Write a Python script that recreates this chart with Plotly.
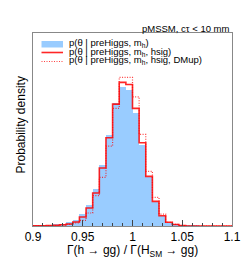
import numpy as np
import plotly.graph_objects as go

# 30 bins from 0.9 to 1.1
bin_lo = 0.9
bin_hi = 1.1
n_bins = 30

# densities
p_mh = [0.05, 0.08, 0.13, 0.21, 0.33, 0.60, 1.03, 1.96, 3.49, 6.10,
        10.03, 14.84, 20.07, 22.79, 22.25, 18.44, 13.25, 7.97, 3.88, 1.59,
        0.49, 0.33, 0.08, 0.03, 0.02, 0.0, 0.0, 0.0, 0.0, 0.0]
p_mh_hsig = [0.05, 0.05, 0.08, 0.13, 0.20, 0.33, 0.65, 1.47, 2.94, 5.40,
             9.49, 14.45, 19.96, 23.51, 23.18, 19.26, 13.63, 8.13, 4.04, 1.69,
             0.61, 0.25, 0.08, 0.0, 0.0, 0.0, 0.0, 0.0, 0.0, 0.0]
p_mh_hsig_dmup = [0.03, 0.03, 0.05, 0.08, 0.13, 0.25, 0.49, 0.93, 2.13, 4.96,
                  7.97, 13.09, 19.26, 24.33, 24.33, 21.15, 15.00, 8.95, 4.70, 1.96,
                  0.61, 0.25, 0.08, 0.0, 0.0, 0.0, 0.0, 0.0, 0.0, 0.0]

tick_vals = [0.9, 0.95, 1.0, 1.05, 1.1]
tick_text = ["0.9", "0.95", "1", "1.05", "1.1"]

legend_labels = [
    "p(θ | preHiggs, m<sub>h</sub>)",
    "p(θ | preHiggs, m<sub>h</sub>, hsig)",
    "p(θ | preHiggs, m<sub>h</sub>, hsig, DMup)",
]

edges = np.linspace(bin_lo, bin_hi, n_bins + 1)
centers = 0.5 * (edges[:-1] + edges[1:])
width = edges[1] - edges[0]

BLUE = "#99ccff"
RED = "rgba(255,0,0,0.85)"
RED_DOT = "rgba(255,0,0,0.75)"
DOT = "1px,1.5px"
FONT = "Liberation Sans, Arial, sans-serif"

fig = go.Figure()
fig.add_trace(go.Bar(x=centers, y=p_mh, width=width, marker=dict(color=BLUE, line=dict(width=0)),
                     showlegend=False, hoverinfo="skip"))
fig.add_trace(go.Scatter(x=edges, y=list(p_mh_hsig) + [p_mh_hsig[-1]], mode="lines",
                         line=dict(shape="hv", color=RED, width=1.6), showlegend=False))
fig.add_trace(go.Scatter(x=edges, y=list(p_mh_hsig_dmup) + [p_mh_hsig_dmup[-1]], mode="lines",
                         line=dict(shape="hv", color=RED_DOT, width=1.2, dash=DOT),
                         showlegend=False))

# plot area: x 25..224 px, y 25..218 px
L, R, T, B = 25, 25, 25, 39
H = 257 - T - B
W = 249 - L - R

def px(xp):
    return (xp - L) / W

def py(yp):
    return (257 - B - yp) / H

fig.update_layout(
    width=249, height=257,
    margin=dict(l=L, r=R, t=T, b=B),
    paper_bgcolor="white", plot_bgcolor="white",
    bargap=0,
    font=dict(family=FONT, size=12, color="black"),
    xaxis=dict(range=[bin_lo, bin_hi], tickvals=tick_vals, ticktext=tick_text,
               ticks="inside", ticklen=6, tickcolor="#444", tickwidth=1,
               minor=dict(dtick=0.01, ticks="inside", ticklen=3, tickcolor="#444"),
               showline=True, linecolor="#888", linewidth=1, mirror=True,
               showgrid=False, zeroline=False,
               tickfont=dict(size=12, family=FONT, color="black")),
    yaxis=dict(range=[0, 31.6], showticklabels=False, ticks="",
               showline=True, linecolor="#888", linewidth=1, mirror=True,
               showgrid=False, zeroline=False),
)

anns = []
anns.append(dict(text="Γ(h → gg) / Γ(H<sub>SM</sub> → gg)", x=0.5, y=py(242.5), xref="paper", yref="paper",
                 showarrow=False, xanchor="center", yanchor="middle", font=dict(size=12, family=FONT)))
anns.append(dict(text="Probability density", x=px(12.5), y=py(117), xref="paper", yref="paper",
                 showarrow=False, textangle=-90, xanchor="center", yanchor="middle",
                 font=dict(size=12, family=FONT)))
anns.append(dict(text="pMSSM, cτ < 10 mm", x=px(223.5), y=py(20.5), xref="paper", yref="paper",
                 showarrow=False, xanchor="right", yanchor="middle", font=dict(size=9.5, family=FONT)))
text_y = [35.0, 43.5, 52.5]
for lab, ty in zip(legend_labels, text_y):
    anns.append(dict(text=lab, x=px(58.5), y=py(ty), xref="paper", yref="paper",
                     showarrow=False, xanchor="left", yanchor="middle",
                     font=dict(size=9.5, family=FONT)))
fig.update_layout(annotations=anns)

shapes = [
    dict(type="rect", xref="paper", yref="paper", x0=px(33.5), x1=px(55), y0=py(39.5), y1=py(33),
         fillcolor=BLUE, line=dict(width=0)),
    dict(type="line", xref="paper", yref="paper", x0=px(33.5), x1=px(55), y0=py(44.5), y1=py(44.5),
         line=dict(color=RED, width=1.6)),
    dict(type="line", xref="paper", yref="paper", x0=px(33.5), x1=px(55), y0=py(53.5), y1=py(53.5),
         line=dict(color=RED_DOT, width=1.2, dash=DOT)),
]
fig.update_layout(shapes=shapes)

fig.write_html("out.html")
